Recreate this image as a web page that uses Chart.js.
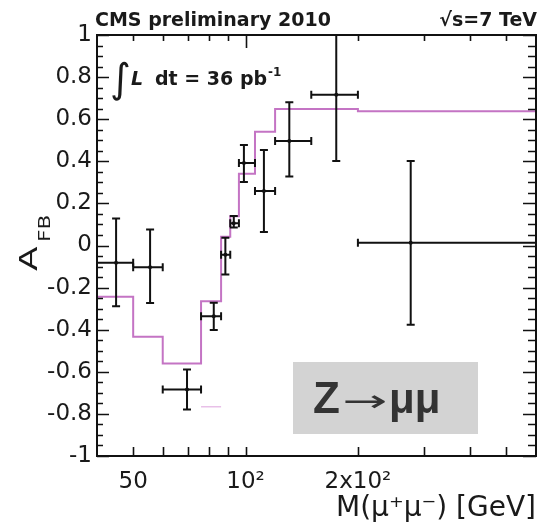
<!DOCTYPE html>
<html><head><meta charset="utf-8">
<script src="https://cdn.jsdelivr.net/npm/chart.js@4/dist/chart.umd.min.js"></script>
<style>html,body{margin:0;padding:0;background:#fff;}#wrap{width:542px;height:528px;position:relative;}</style>
</head><body><div id="wrap"><canvas id="c" width="542" height="528"></canvas></div>
<script>
// ---- data ----
const massCenter = [45, 55.5, 69.7, 82.2, 88.3, 93, 99, 112, 131, 175, 277];
const massLow    = [40, 50, 60, 76, 86, 91, 96, 106, 120, 150, 200];
const massHigh   = [50, 60, 76, 86, 91, 96, 106, 120, 150, 200, 600];
const afbData    = [-0.082, -0.103, -0.684, -0.336, -0.044, 0.106, 0.392, 0.259, 0.497, 0.716, 0.013];
const afbHigh    = [0.128, 0.076, -0.589, -0.272, 0.037, 0.140, 0.477, 0.454, 0.680, 1.05, 0.402];
const afbLow     = [-0.289, -0.273, -0.779, -0.402, -0.138, 0.085, 0.302, 0.064, 0.328, 0.402, -0.376];
const theoryEdges = [40, 50, 60, 76, 86, 91, 96, 106, 120, 150, 200, 600];
const theoryAfb   = [-0.244, -0.434, -0.561, -0.265, 0.041, 0.139, 0.341, 0.540, 0.649, 0.649, 0.638];
const strayEdges = [76, 86];
const strayAfb   = [-0.766, -0.766];
const xTickValues = [50, 60, 70, 80, 90, 100, 200, 300, 400, 500];
const xTickLabels = {50: '50', 100: '10²', 200: '2x10²'};
const yTickValues = [-1, -0.8, -0.6, -0.4, -0.2, 0, 0.2, 0.4, 0.6, 0.8, 1];
const yMinorStep = 0.05;

const FONT = '"DejaVu Sans", sans-serif';
Chart.defaults.font.family = FONT;
Chart.defaults.color = '#1a1a1a';

const theoryPts = theoryEdges.map((e, i) => ({x: e, y: theoryAfb[Math.min(i, theoryAfb.length - 1)]}));
const strayPts = strayEdges.map((e, i) => ({x: e, y: strayAfb[i]}));
const dataPts = massCenter.map((m, i) => ({x: m, y: afbData[i]}));

const decor = {
  id: 'decor',
  afterDatasetsDraw(chart) {
    const {ctx, chartArea: a, scales: {x, y}} = chart;
    ctx.save();
    ctx.beginPath(); ctx.rect(a.left, a.top, a.right - a.left, a.bottom - a.top); ctx.clip();
    ctx.strokeStyle = '#111'; ctx.lineWidth = 2;
    massCenter.forEach((m, i) => {
      const px = x.getPixelForValue(m), py = y.getPixelForValue(afbData[i]);
      const xl = x.getPixelForValue(massLow[i]), xh = x.getPixelForValue(massHigh[i]);
      const yh = y.getPixelForValue(afbHigh[i]), yl = y.getPixelForValue(afbLow[i]);
      ctx.beginPath();
      ctx.moveTo(xl, py); ctx.lineTo(xh, py);
      ctx.moveTo(xl, py - 4); ctx.lineTo(xl, py + 4);
      ctx.moveTo(xh, py - 4); ctx.lineTo(xh, py + 4);
      ctx.moveTo(px, yh); ctx.lineTo(px, yl);
      ctx.moveTo(px - 4, yh); ctx.lineTo(px + 4, yh);
      ctx.moveTo(px - 4, yl); ctx.lineTo(px + 4, yl);
      ctx.stroke();
    });
    ctx.restore();
  },
  afterDraw(chart) {
    const {ctx, chartArea: a, scales: {x, y}} = chart;
    ctx.save();
    ctx.strokeStyle = '#111'; ctx.lineWidth = 2;
    ctx.strokeRect(a.left, a.top, a.right - a.left, a.bottom - a.top);
    ctx.beginPath();
    for (let v = -1; v <= 1.0001; v += yMinorStep) {
      const vv = Math.round(v * 100) / 100;
      const py = Math.round(y.getPixelForValue(vv)) + 0.5;
      const major = Math.abs(Math.round(vv * 5) - vv * 5) < 1e-6;
      ctx.moveTo(a.left, py); ctx.lineTo(a.left + (major ? 12 : 6), py);
      ctx.moveTo(a.right, py); ctx.lineTo(a.right - (major ? 13 : 8), py);
    }
    xTickValues.forEach(v => {
      const px = Math.round(x.getPixelForValue(v)) + 0.5;
      ctx.moveTo(px, a.bottom); ctx.lineTo(px, a.bottom - 9);
      ctx.moveTo(px, a.top); ctx.lineTo(px, a.top + (v === 100 ? 13 : 6));
    });
    ctx.lineWidth = 1.6;
    ctx.stroke();

    // header texts
    ctx.fillStyle = '#1a1a1a';
    ctx.font = 'bold 19px ' + FONT;
    ctx.textBaseline = 'alphabetic';
    ctx.textAlign = 'left';
    ctx.fillText('CMS preliminary 2010', 95, 26);
    ctx.textAlign = 'right';
    ctx.fillText('√s=7 TeV', 537, 26);

    // luminosity
    ctx.textAlign = 'left';
    ctx.font = '40px ' + FONT;
    ctx.fillText('∫', 110, 92);
    ctx.font = 'italic bold 19px ' + FONT;
    ctx.fillText('L', 131, 85);
    ctx.font = 'bold 19px ' + FONT;
    const t = 'dt = 36 pb';
    ctx.fillText(t, 155, 85);
    const w = ctx.measureText(t).width;
    ctx.font = 'bold 12px ' + FONT;
    ctx.fillText('-1', 155 + w + 1, 76);

    // Z -> mumu box
    ctx.fillStyle = '#d3d3d3';
    ctx.fillRect(293, 362, 185, 72);
    ctx.fillStyle = '#333';
    ctx.font = 'bold 44px "Liberation Sans", sans-serif';
    ctx.fillText('Z', 313, 413);
    ctx.save();
    ctx.font = '30px ' + FONT;
    const aw = ctx.measureText('→').width;
    ctx.translate(342, 411);
    ctx.scale(45 / aw, 1);
    ctx.fillText('→', 0, 0);
    ctx.restore();
    ctx.font = 'bold 42px "Liberation Sans", sans-serif';
    ctx.fillText('μμ', 389, 413);

    // y axis title A_FB
    ctx.save();
    ctx.translate(37, 271);
    ctx.rotate(-Math.PI / 2);
    ctx.fillStyle = '#1a1a1a';
    ctx.save(); ctx.scale(1.5, 1);
    ctx.font = '24px ' + FONT;
    ctx.fillText('A', 0, 0);
    ctx.restore();
    ctx.save(); ctx.translate(29, 13); ctx.scale(1.35, 1);
    ctx.font = '16px ' + FONT;
    ctx.fillText('FB', 0, 0);
    ctx.restore();
    ctx.restore();
    ctx.restore();
  }
};

new Chart(document.getElementById('c'), {
  type: 'scatter',
  data: {datasets: [
    {type: 'line', data: theoryPts, stepped: 'before', borderColor: '#c474c4', borderWidth: 2, pointRadius: 0, fill: false},
    {type: 'line', data: strayPts, borderColor: '#e8c0e8', borderWidth: 1.5, pointRadius: 0, fill: false},
    {data: dataPts, pointRadius: 2, backgroundColor: '#111', borderColor: '#111', borderWidth: 0}
  ]},
  options: {
    responsive: false, animation: false, devicePixelRatio: 1,
    layout: {padding: {top: 35, right: 6, left: 0, bottom: 0}},
    plugins: {legend: {display: false}, tooltip: {enabled: false}, title: {display: false}},
    scales: {
      x: {
        type: 'logarithmic', min: 40, max: 600,
        grid: {display: false, drawTicks: false}, border: {display: false},
        afterBuildTicks: s => { s.ticks = xTickValues.map(v => ({value: v})); },
        afterFit: s => { s.height = 72; },
        ticks: {autoSkip: false, maxRotation: 0, minRotation: 0, padding: 12, color: '#1a1a1a',
                font: {size: 23}, callback: v => xTickLabels[v] || ''},
        title: {display: true, text: 'M(μ⁺μ⁻) [GeV]', align: 'end', color: '#1a1a1a',
                font: {size: 28}, padding: {top: 0, bottom: 2}}
      },
      y: {
        min: -1, max: 1,
        grid: {display: false, drawTicks: false}, border: {display: false},
        afterBuildTicks: s => { s.ticks = yTickValues.map(v => ({value: v})); },
        afterFit: s => { s.width = 97; },
        ticks: {padding: 5, color: '#1a1a1a', font: {size: 23},
                callback: v => String(Number(v.toFixed(1)))}
      }
    }
  },
  plugins: [decor]
});
</script></body></html>
